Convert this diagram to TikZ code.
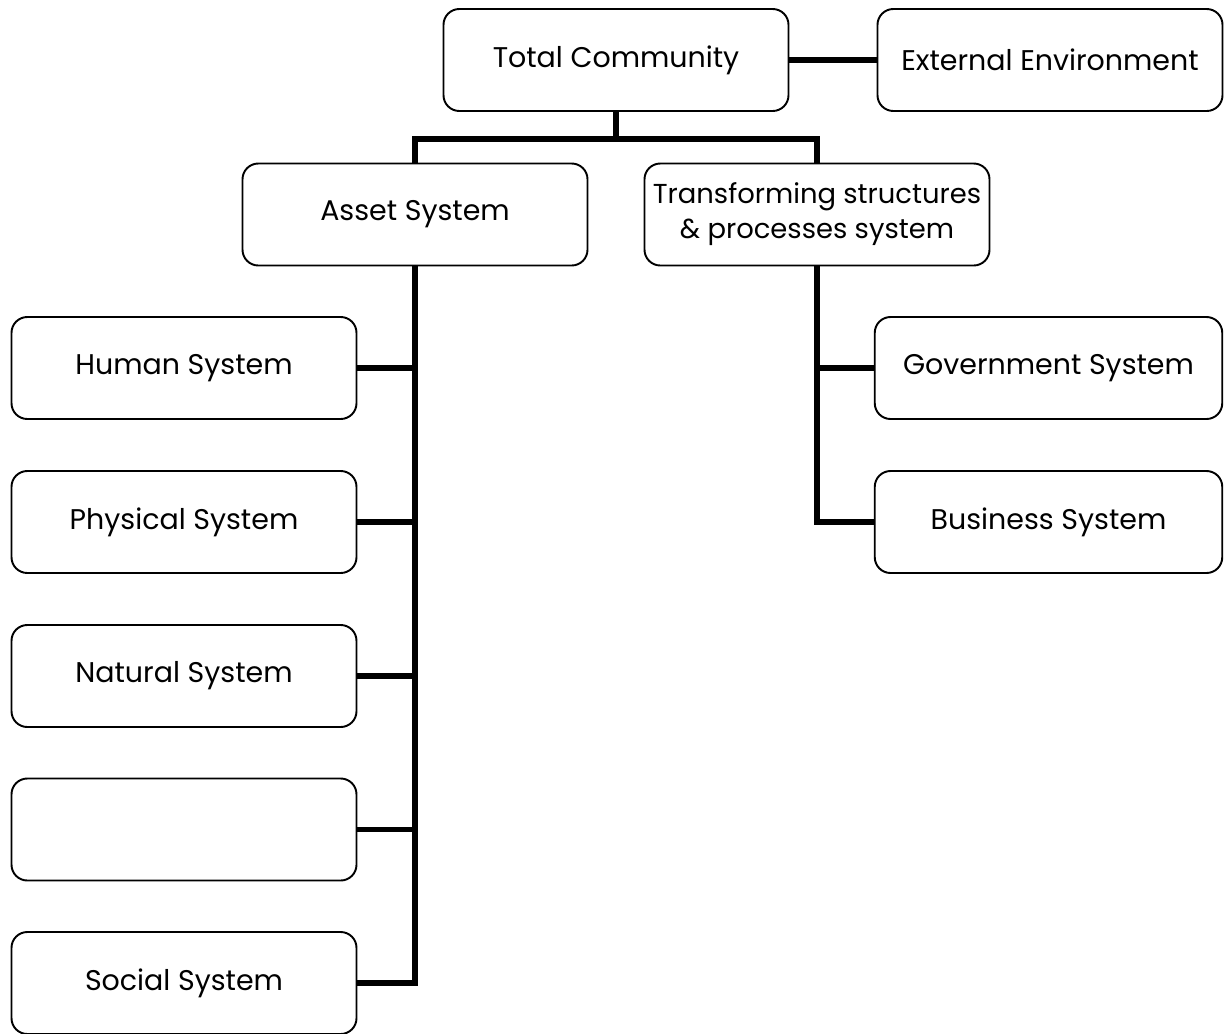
\documentclass[tikz,border=0pt]{standalone}
\usepackage{fontspec}
\setmainfont{Poppins}
\usetikzlibrary{positioning,calc}

\begin{document}
\begin{tikzpicture}[
  box/.style={draw, rounded corners=9pt, minimum width=6.9cm,
              minimum height=2.04cm, align=center, line width=1.1pt,
              font=\fontsize{16.2}{21}\selectfont},
  link/.style={line width=3.3pt}
]
\useasboundingbox (0,0) rectangle (24.62,-20.66);

% top level
\node[box] (total) at (12.32,-1.20) {Total Community};
\node[box] (ext)   at (21.00,-1.20) {External Environment};

% second level
\node[box] (asset) at (8.30,-4.29) {Asset System};
\node[box, inner xsep=0pt, font=\fontsize{15.6}{20}\selectfont] (trans) at (16.34,-4.29)
  {Transforming structures\\\& processes system};

% asset branch
\node[box] (human)    at (3.68,-7.36)  {Human System};
\node[box] (physical) at (3.68,-10.44) {Physical System};
\node[box] (natural)  at (3.68,-13.52) {Natural System};
\node[box] (blank)    at (3.68,-16.59) {};
\node[box] (social)   at (3.68,-19.66) {Social System};

% transforming branch
\node[box, minimum width=6.95cm] (gov)      at (20.97,-7.36)  {Government System};
\node[box, minimum width=6.95cm] (business) at (20.97,-10.44) {Business System};

\draw[link] (total.east) -- (ext.west);
\draw[link] (total.south) -- ++(0,-0.54) coordinate (split);
\draw[link] (asset.north) |- (split) -| (trans.north);

\draw[link] (asset.south) |- (social.east);
\foreach \n in {human,physical,natural,blank}
  \draw[link] (\n.east) -- (asset.south |- \n.east);

\draw[link] (trans.south) |- (business.west);
\draw[link] (gov.west) -- (trans.south |- gov.west);

\end{tikzpicture}
\end{document}
